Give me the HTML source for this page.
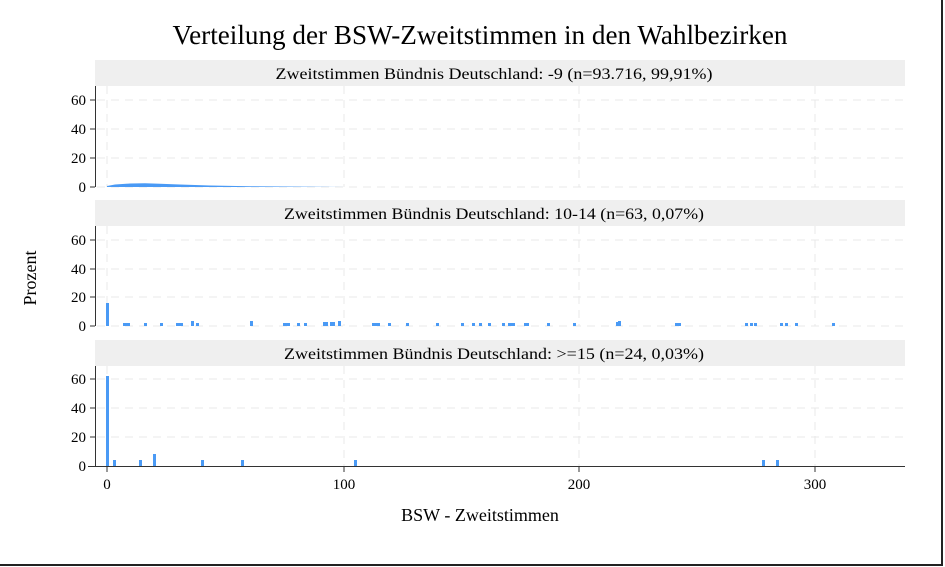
<!DOCTYPE html>
<html><head><meta charset="utf-8"><style>body{margin:0;background:#fff}svg{display:block}text{font-family:"Liberation Serif",serif;fill:#000}</style></head>
<body>
<svg width="945" height="567" viewBox="0 0 945 567">
<rect x="0" y="0" width="945" height="567" fill="#fff"/>
<line x1="942" y1="0" x2="942" y2="566" stroke="#222" stroke-width="2"/>
<line x1="0" y1="565" x2="943" y2="565" stroke="#222" stroke-width="2"/>
<text x="480" y="44" font-size="27" text-anchor="middle" textLength="615" lengthAdjust="spacingAndGlyphs">Verteilung der BSW-Zweitstimmen in den Wahlbezirken</text>
<text transform="translate(36,278) rotate(-90)" font-size="18" text-anchor="middle">Prozent</text>
<text x="480" y="521" font-size="18" text-anchor="middle">BSW - Zweitstimmen</text>
<g id="grid" stroke="#e8e8e8" stroke-dasharray="8,6" stroke-width="1">
<line x1="107" y1="86" x2="107" y2="187"/><line x1="344" y1="86" x2="344" y2="187"/><line x1="579" y1="86" x2="579" y2="187"/><line x1="815" y1="86" x2="815" y2="187"/>
<line x1="97" y1="100" x2="905" y2="100"/><line x1="97" y1="129" x2="905" y2="129"/><line x1="97" y1="158" x2="905" y2="158"/><line x1="97" y1="187" x2="905" y2="187"/>
<line x1="107" y1="226" x2="107" y2="326"/><line x1="344" y1="226" x2="344" y2="326"/><line x1="579" y1="226" x2="579" y2="326"/><line x1="815" y1="226" x2="815" y2="326"/>
<line x1="97" y1="240" x2="905" y2="240"/><line x1="97" y1="269" x2="905" y2="269"/><line x1="97" y1="297" x2="905" y2="297"/><line x1="97" y1="326" x2="905" y2="326"/>
<line x1="107" y1="366" x2="107" y2="466"/><line x1="344" y1="366" x2="344" y2="466"/><line x1="579" y1="366" x2="579" y2="466"/><line x1="815" y1="366" x2="815" y2="466"/>
<line x1="97" y1="379" x2="905" y2="379"/><line x1="97" y1="408" x2="905" y2="408"/><line x1="97" y1="437" x2="905" y2="437"/>
</g>
<rect x="95" y="60" width="810" height="26" fill="#efefef"/>
<rect x="95" y="200" width="810" height="26" fill="#efefef"/>
<rect x="95" y="340" width="810" height="26" fill="#efefef"/>
<text x="494" y="79" font-size="16" text-anchor="middle" textLength="437" lengthAdjust="spacingAndGlyphs">Zweitstimmen Bündnis Deutschland: -9 (n=93.716, 99,91%)</text>
<text x="494" y="219" font-size="16" text-anchor="middle" textLength="420" lengthAdjust="spacingAndGlyphs">Zweitstimmen Bündnis Deutschland: 10-14 (n=63, 0,07%)</text>
<text x="494" y="359" font-size="16" text-anchor="middle" textLength="420" lengthAdjust="spacingAndGlyphs">Zweitstimmen Bündnis Deutschland: &gt;=15 (n=24, 0,03%)</text>
<g stroke="#333" stroke-width="1">
<line x1="95.5" y1="86" x2="95.5" y2="187"/><line x1="95.5" y1="226" x2="95.5" y2="326"/><line x1="95.5" y1="366" x2="95.5" y2="466"/>
<line x1="88" y1="466.5" x2="905" y2="466.5"/>
<line x1="90" y1="100" x2="95" y2="100"/><line x1="90" y1="129" x2="95" y2="129"/><line x1="90" y1="158" x2="95" y2="158"/><line x1="90" y1="187" x2="95" y2="187"/>
<line x1="90" y1="240" x2="95" y2="240"/><line x1="90" y1="269" x2="95" y2="269"/><line x1="90" y1="297" x2="95" y2="297"/><line x1="90" y1="326" x2="95" y2="326"/>
<line x1="90" y1="379" x2="95" y2="379"/><line x1="90" y1="408" x2="95" y2="408"/><line x1="90" y1="437" x2="95" y2="437"/>
<line x1="107" y1="466" x2="107" y2="472"/><line x1="344" y1="466" x2="344" y2="472"/><line x1="579" y1="466" x2="579" y2="472"/><line x1="815" y1="466" x2="815" y2="472"/>
</g>
<g font-size="15" text-anchor="end">
<text x="86" y="105">60</text><text x="86" y="134">40</text><text x="86" y="163">20</text><text x="86" y="192">0</text>
<text x="86" y="245">60</text><text x="86" y="274">40</text><text x="86" y="302">20</text><text x="86" y="331">0</text>
<text x="86" y="384">60</text><text x="86" y="413">40</text><text x="86" y="442">20</text><text x="86" y="471">0</text>
</g>
<g font-size="15" text-anchor="middle">
<text x="107" y="489">0</text><text x="344" y="489">100</text><text x="579" y="489">200</text><text x="815" y="489">300</text>
</g>
<path d="M107 187 L107 186 L115 184.5 L130 183.5 L145 183.3 L160 183.8 L180 184.5 L210 185.5 L250 186.2 L300 186.6 L345 187 Z" fill="#4a9af5"/>
<g fill="#4a9af5">
<rect x="106" y="303" width="3" height="23"/>
<rect x="123" y="323" width="7" height="3"/><rect x="144" y="323" width="3" height="3"/><rect x="160" y="323" width="3" height="3"/>
<rect x="176" y="323" width="7" height="3"/><rect x="191" y="321" width="3" height="5"/><rect x="196" y="323" width="3" height="3"/>
<rect x="250" y="321" width="3" height="5"/><rect x="283" y="323" width="7" height="3"/><rect x="297" y="323" width="3" height="3"/><rect x="304" y="323" width="3" height="3"/>
<rect x="323" y="322" width="5" height="4"/><rect x="330" y="322" width="5" height="4"/><rect x="338" y="321" width="3" height="5"/>
<rect x="372" y="323" width="8" height="3"/><rect x="388" y="323" width="3" height="3"/><rect x="406" y="323" width="3" height="3"/>
<rect x="436" y="323" width="3" height="3"/><rect x="461" y="323" width="3" height="3"/><rect x="472" y="323" width="3" height="3"/>
<rect x="479" y="323" width="3" height="3"/><rect x="488" y="323" width="3" height="3"/><rect x="502" y="323" width="3" height="3"/>
<rect x="508" y="323" width="7" height="3"/><rect x="524" y="323" width="5" height="3"/><rect x="547" y="323" width="3" height="3"/><rect x="573" y="323" width="3" height="3"/>
<rect x="616" y="322" width="3" height="4"/><rect x="618" y="321" width="3" height="5"/><rect x="675" y="323" width="6" height="3"/>
<rect x="745" y="323" width="3" height="3"/><rect x="750" y="323" width="3" height="3"/><rect x="754" y="323" width="3" height="3"/>
<rect x="780" y="323" width="3" height="3"/><rect x="785" y="323" width="3" height="3"/><rect x="795" y="323" width="3" height="3"/><rect x="832" y="323" width="3" height="3"/>
<rect x="106" y="376" width="3" height="90"/>
<rect x="113" y="460" width="3" height="6"/><rect x="139" y="460" width="3" height="6"/><rect x="153" y="454" width="3" height="12"/>
<rect x="201" y="460" width="3" height="6"/><rect x="241" y="460" width="3" height="6"/><rect x="354" y="460" width="3" height="6"/>
<rect x="762" y="460" width="3" height="6"/><rect x="776" y="460" width="3" height="6"/>
</g>
</svg>
</body></html>
